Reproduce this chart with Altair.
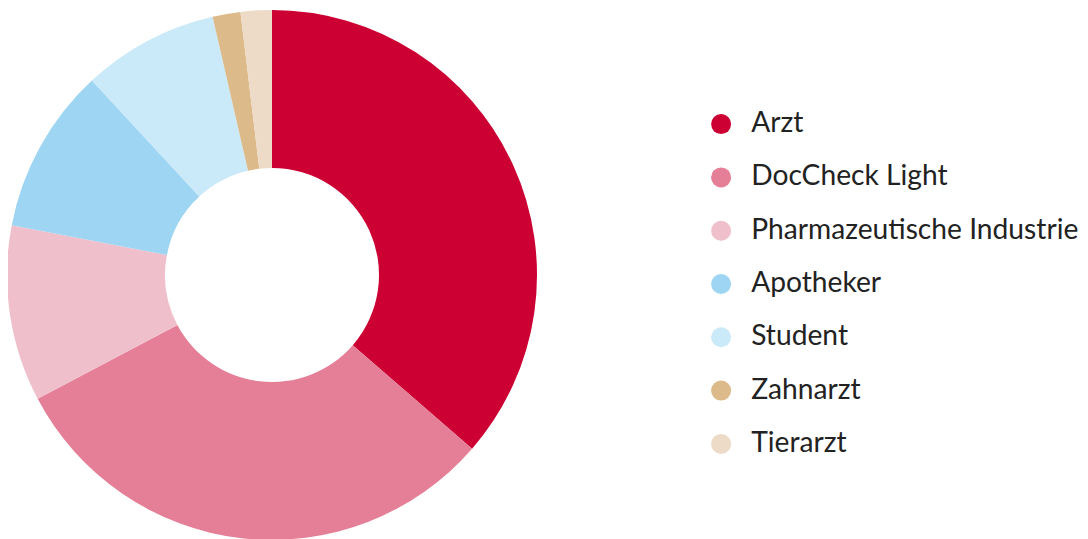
import altair as alt
import pandas as pd

categories = ["Arzt", "DocCheck Light", "Pharmazeutische Industrie", "Apotheker",
              "Student", "Zahnarzt", "Tierarzt"]
shares = [36.4, 30.9, 10.75, 10.1, 8.3, 1.7, 1.9]
colors = ["#CC0033", "#E57F97", "#F0BFCC", "#9DD5F3", "#CAE9F9", "#DDBA8A", "#EDDAC7"]

df = pd.DataFrame({"Gruppe": categories, "Anteil": shares, "idx": list(range(len(categories)))})

chart = alt.Chart(df).mark_arc(outerRadius=265, innerRadius=107, stroke=None).encode(
    theta=alt.Theta("Anteil:Q", stack=True),
    order=alt.Order("idx:Q"),
    color=alt.Color(
        "Gruppe:N",
        scale=alt.Scale(domain=categories, range=colors),
        sort=categories,
        legend=alt.Legend(
            title=None,
            orient="none",
            legendX=699,
            legendY=102,
            symbolType="circle",
            symbolSize=400,
            symbolStrokeWidth=0,
            labelFont="Lato",
            labelFontSize=28.2,
            labelColor="#222222",
            labelOffset=16,
            rowPadding=24.3,
            labelLimit=500,
        ),
    ),
    x=alt.value(264),
    y=alt.value(267),
).properties(
    width=1072, height=540,
    autosize=alt.AutoSizeParams(type="none"),
    padding=0,
).configure_view(stroke=None)

chart.save("out.html", embed_options={"renderer": "svg", "actions": False})
